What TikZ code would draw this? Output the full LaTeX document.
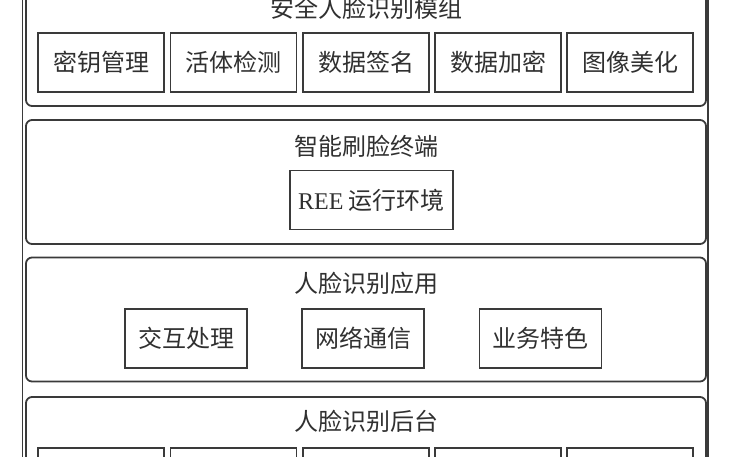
\documentclass[tikz,border=0pt]{standalone}
\usepackage{fontspec}
\setmainfont{Liberation Serif}
\newfontfamily\cjk{Noto Sans CJK SC}
\usepackage{xcolor}
\definecolor{linegray}{HTML}{3A3A3A}
\definecolor{textgray}{HTML}{303030}

\begin{document}
\begin{tikzpicture}[x=1pt,y=-1pt,
    panel/.style={draw=linegray, line width=1.8pt, rounded corners=6pt,
        minimum width=680pt, minimum height=124pt, inner sep=0pt},
    unit/.style={draw=linegray, line width=1.2pt, minimum width=126pt,
        minimum height=59pt, inner sep=0pt, text=textgray,
        font=\cjk\fontsize{24}{28}\selectfont},
    title/.style={text=textgray, font=\cjk\fontsize{24}{28}\selectfont}]
                    \useasboundingbox (0,0) rectangle (731,456);
                    \clip (0,0) rectangle (731,456);

                    %outer frame
                    \draw[linegray, line width=1.2pt] (22.5,-30) rectangle (708,490);

                    %secure face module
                    \node[panel] (module) at (366,44) {};
                    \node[title] (moduletitle) at (366,8) {安全人脸识别模组};
                    \node[unit] (keymgmt) at (101,62.5) {密钥管理};
                    \node[unit] (liveness) at (233.5,62.5) {活体检测};
                    \node[unit] (datasign) at (366,62.5) {数据签名};
                    \node[unit] (dataenc) at (498,62.5) {数据加密};
                    \node[unit] (beautify) at (630,62.5) {图像美化};

                    %terminal
                    \node[panel] (terminal) at (366,182) {};
                    \node[title] (terminaltitle) at (366,146) {智能刷脸终端};
                    \node[unit, minimum width=163pt] (ree) at (371.5,200)
                        {{\rmfamily REE} 运行环境};

                    %application
                    \node[panel] (app) at (366,319.5) {};
                    \node[title] (apptitle) at (366,283) {人脸识别应用};
                    \node[unit, minimum width=122pt] (interact) at (186,338.5) {交互处理};
                    \node[unit, minimum width=122pt] (network) at (363,338.5) {网络通信};
                    \node[unit, minimum width=122pt] (business) at (540.5,338.5) {业务特色};

                    %backend
                    \node[panel] (backend) at (366,459) {};
                    \node[title] (backendtitle) at (366,421) {人脸识别后台};
                    \node[unit] (backA) at (101,477.5) {};
                    \node[unit] (backB) at (233.5,477.5) {};
                    \node[unit] (backC) at (366,477.5) {};
                    \node[unit] (backD) at (498,477.5) {};
                    \node[unit] (backE) at (630,477.5) {};
                \end{tikzpicture}
\end{document}
